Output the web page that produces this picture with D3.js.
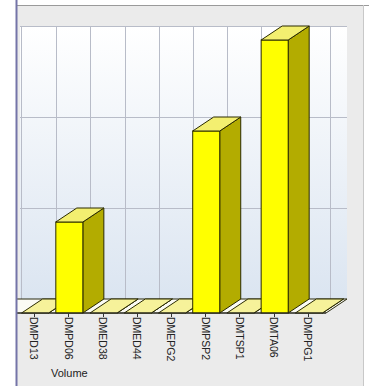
<!DOCTYPE html>
<html><head><meta charset="utf-8">
<script src="https://cdn.jsdelivr.net/npm/d3@7"></script>
<style>html,body{margin:0;padding:0;background:#fff;}svg{display:block;}</style>
</head><body>
<svg id="c" width="369" height="386"></svg>
<script>
const categories = ["DMPD13","DMPD06","DMED38","DMED44","DMEPG2","DMPSP2","DMTSP1","DMTA06","DMPPG1"];
const values = [0,1,0,0,0,2,0,3,0];
const valueTicks = [0,1,2,3];
const seriesName = "Volume";

const svg = d3.select("#c");
const W = 369, H = 386;
const dx = 21, dy = -14;

// panel
svg.append("rect").attr("x",16).attr("y",5).attr("width",348).attr("height",H-5).attr("fill","#ebebeb");
svg.append("line").attr("x1",16).attr("x2",W).attr("y1",5.5).attr("y2",5.5).attr("stroke","#9a9a9a");
svg.append("line").attr("x1",363.5).attr("x2",363.5).attr("y1",5).attr("y2",H).attr("stroke","#c8c8c8");

const x = d3.scaleBand().domain(categories).range([18,326]).paddingInner(0.21).paddingOuter(0.105);
const yF = d3.scaleLinear().domain([0,3]).range([313,40]);
const yB = v => yF(v) + dy;

const defs = svg.append("defs");
const g = defs.append("linearGradient").attr("id","wall").attr("x1",0).attr("y1",0).attr("x2",0).attr("y2",1);
g.append("stop").attr("offset","0%").attr("stop-color","#ffffff");
g.append("stop").attr("offset","100%").attr("stop-color","#dbe5f1");
defs.append("clipPath").attr("id","clip").append("rect").attr("x",17).attr("y",0).attr("width",W).attr("height",H);

const plot = svg.append("g").attr("clip-path","url(#clip)");

// back wall
const wallL = 20, wallR = x.range()[1] + dx;
plot.append("rect").attr("x",wallL).attr("y",yB(3)).attr("width",wallR-wallL).attr("height",yB(0)-yB(3)).attr("fill","url(#wall)");
// horizontal gridlines
plot.selectAll(".hg").data(valueTicks.slice(1)).join("line")
  .attr("x1",wallL).attr("x2",wallR).attr("y1",d=>Math.round(yB(d))+0.5).attr("y2",d=>Math.round(yB(d))+0.5)
  .attr("stroke","#b8bcc8");
// vertical gridlines
const step = x.step();
const vgx = [wallL+1].concat(categories.map(c => x(c) + x.bandwidth()/2 + dx));
plot.selectAll(".vg").data(vgx).join("line")
  .attr("x1",d=>Math.round(d)+0.5).attr("x2",d=>Math.round(d)+0.5).attr("y1",yB(3)).attr("y2",yB(0))
  .attr("stroke","#b8bcc8");

// floor
const f0 = x.range()[0]-step, f1 = x.range()[1], fy = yF(0);
plot.append("polygon")
  .attr("points",[[f0,fy],[f0+dx,fy+dy],[f1+dx,fy+dy],[f1,fy]].map(p=>p.join(",")).join(" "))
  .attr("fill","#fbfbf4").attr("stroke","#2a2a10").attr("stroke-width",1);

// bars
const bars = plot.selectAll(".bar").data(categories.map((c,i)=>({c,v:values[i]}))).join("g");
bars.each(function(d){
  const gg = d3.select(this);
  const x0 = x(d.c), w = x.bandwidth(), yt = yF(d.v), yb = yF(0);
  const pts = a => a.map(p=>p.join(",")).join(" ");
  gg.append("polygon").attr("points",pts([[x0+w,yt],[x0+w+dx,yt+dy],[x0+w+dx,yb+dy],[x0+w,yb]]))
    .attr("fill","#b3ac00").attr("stroke","#2a2a00").attr("stroke-width",1).attr("stroke-linejoin","round");
  if (d.v>0) gg.append("rect").attr("x",x0).attr("y",yt).attr("width",w).attr("height",yb-yt)
    .attr("fill","#ffff00").attr("stroke","#2a2a00").attr("stroke-width",1);
  gg.append("polygon").attr("points",pts([[x0,yt],[x0+dx,yt+dy],[x0+w+dx,yt+dy],[x0+w,yt]]))
    .attr("fill",d.v>0?"#f3ef70":"#f6f29a").attr("stroke","#2a2a00").attr("stroke-width",1).attr("stroke-linejoin","round");
});
// floor front edge on top
plot.append("line").attr("x1",f0).attr("x2",f1).attr("y1",fy).attr("y2",fy).attr("stroke","#222").attr("stroke-width",1.2);

// ticks and labels
svg.selectAll(".tk").data(categories).join("line")
  .attr("x1",c=>Math.round(x(c)+x.bandwidth()/2)-0.5).attr("x2",c=>Math.round(x(c)+x.bandwidth()/2)-0.5)
  .attr("y1",fy).attr("y2",fy+4).attr("stroke","#333");
svg.selectAll(".lb").data(categories).join("text")
  .attr("transform",c=>`translate(${x(c)+x.bandwidth()/2-1},317) rotate(90)`)
  .attr("dy","0.35em").attr("font-family","Liberation Sans, Arial, sans-serif").attr("font-size",10.5)
  .attr("fill","#222").text(c=>c);

svg.append("text").attr("x",51).attr("y",377).attr("font-family","Liberation Sans, Arial, sans-serif")
  .attr("font-size",11).attr("fill","#222").text(seriesName);

// left frame line
svg.append("rect").attr("x",15.5).attr("y",0).attr("width",2).attr("height",H).attr("fill","#7474a8");
</script>
</body></html>
